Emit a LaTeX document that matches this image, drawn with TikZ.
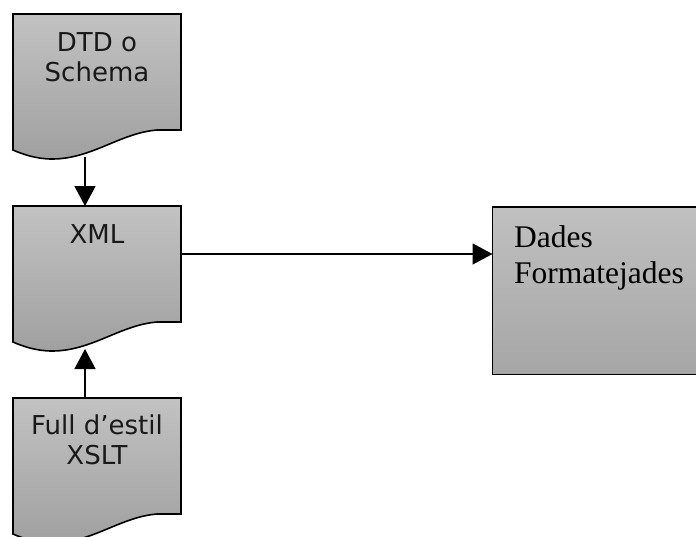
\documentclass[tikz,border=0pt]{standalone}
\usepackage{fontspec}
\setmainfont{Liberation Serif}
\newfontfamily\docfont{DejaVu Sans}
\usetikzlibrary{arrows.meta}

\definecolor{shadetop}{RGB}{194,194,194}
\definecolor{shadebot}{RGB}{160,160,160}
\definecolor{boxtop}{RGB}{192,192,192}
\definecolor{boxbot}{RGB}{166,166,166}

\tikzset{
  docshape/.style={draw=black, line width=1.6pt, line join=miter,
    top color=shadetop, bottom color=shadebot},
  boxshape/.style={draw=black, line width=1.6pt,
    top color=boxtop, bottom color=boxbot},
  doclabel/.style={font=\docfont\fontsize{26}{30}\selectfont, align=center,
    inner sep=0pt, text=black!90},
  boxlabel/.style={font=\fontsize{31.5}{36}\selectfont, align=left,
    inner sep=0pt, anchor=north west},
  flow/.style={draw=black, line width=1.5pt,
    -{Triangle[length=20pt,width=21pt]}},
}

% document symbol: flat top, wavy bottom; #1 = top edge
\newcommand{\docsymbol}[1]{%
  \path[docshape] (13,#1) -- (181,#1) -- (181,#1+116) -- (157,#1+116)
    .. controls (120,#1+119) and (92,#1+145) .. (52,#1+145)
    .. controls (36,#1+145) and (22,#1+140) .. (13,#1+136) -- cycle;}

\begin{document}
\begin{tikzpicture}[x=1pt,y=-1pt]
  \useasboundingbox (0,0) rectangle (696,536);
  \clip (0,0) rectangle (696,536);
  \fill[white] (0,0) rectangle (696,536);

  % documents
  \docsymbol{14}
  \docsymbol{206}
  \docsymbol{398}

  % output box
  \path[boxshape] (492.5,207) rectangle (705,374.5);
  \coordinate (out) at (492.5,254);

  % labels
  \node[doclabel] (dtd) at (97,57.5) {DTD o\\Schema};
  \node[doclabel] (xml) at (97,234.5) {XML};
  \node[doclabel] (xslt) at (97,440) {Full d’estil\\XSLT};
  \node[boxlabel] (dades) at (514,225.5) {Dades\\Formatejades};

  % attachment points on the documents
  \coordinate (dtdB) at (85,157);
  \coordinate (xmlT) at (85,206);
  \coordinate (xmlB) at (85,349);
  \coordinate (xmlR) at (181,254);
  \coordinate (xsltT) at (85,398);

  % connectors
  \draw[flow] (dtdB) -- (xmlT);
  \draw[flow] (xsltT) -- (xmlB);
  \draw[flow] (xmlR) -- (out);
\end{tikzpicture}
\end{document}
